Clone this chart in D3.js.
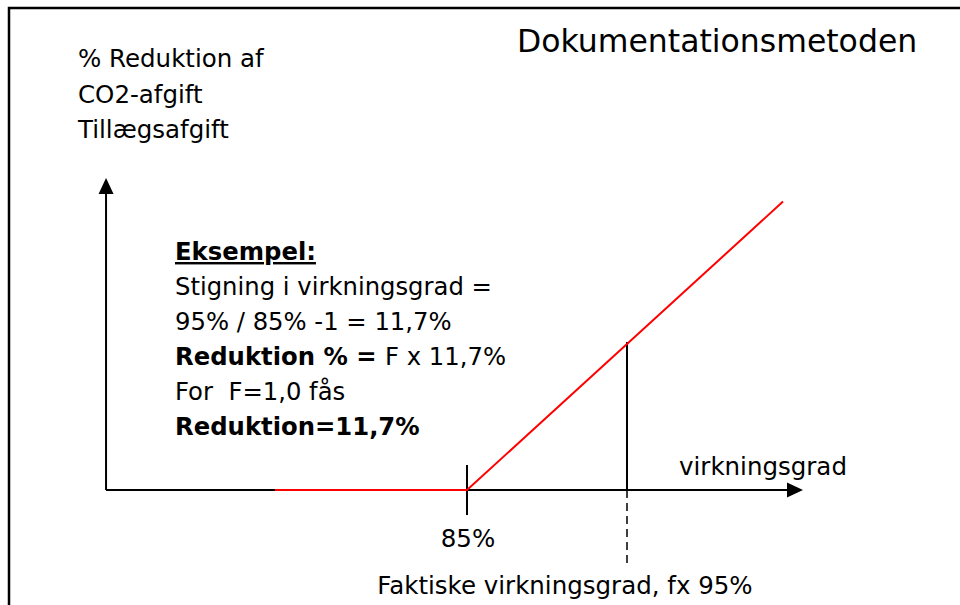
<!DOCTYPE html>
<html>
<head>
<meta charset="utf-8">
<script src="https://cdn.jsdelivr.net/npm/d3@7.8.5/dist/d3.min.js"></script>
<style>
  html, body { margin: 0; padding: 0; background: #fff; }
  svg { display: block; font-family: "DejaVu Sans", Verdana, sans-serif; }
</style>
</head>
<body>
<svg id="chart" width="960" height="605"></svg>
<script>
// Virkningsgrad (%) og reduktion (%) for den røde kurve
const efficiency = [73, 85, 104.75];
const reduction = [0, 0, 22.8];

// Markeringer på x-aksen
const baseEff = 85;       // tick med label
const actualEff = 95;     // faktisk virkningsgrad
const actualRed = 11.7;   // reduktion ved 95%

// Aksernes udstrækning i data-enheder
const xAxisRange = [62.44, 106];
const yAxisRange = [0, 24.66];

const titleText = 'Dokumentationsmetoden';
const yLabelLines = ['% Reduktion af', 'CO2-afgift', 'Tillægsafgift'];
const exampleLines = [
  [{t: 'Eksempel:', b: true, u: true}],
  [{t: 'Stigning i virkningsgrad ='}],
  [{t: '95% / 85% -1 = 11,7%'}],
  [{t: 'Reduktion % = ', b: true}, {t: 'F x 11,7%'}],
  [{t: 'For  F=1,0 fås'}],
  [{t: 'Reduktion=11,7%', b: true}]
];
const xLabel = 'virkningsgrad';
const tickLabel = '85%';
const actualLabel = 'Faktiske virkningsgrad, fx 95%';

const svg = d3.select('#chart');

// skalaer: 85% -> 467px, 95% -> 627px
const x = d3.scaleLinear().domain([85, 95]).range([467, 627]);
const y = d3.scaleLinear().domain([0, 11.7]).range([490, 342]);

// ramme (kun top og venstre ses)
svg.append('path')
  .attr('d', 'M9,605 L9,8 L960,8')
  .attr('fill', 'none')
  .attr('stroke', '#000')
  .attr('stroke-width', 2.5);

// titel
svg.append('text')
  .attr('x', 517).attr('y', 52)
  .attr('font-size', 31.5)
  .text(titleText);

// y-label
svg.append('g').selectAll('text')
  .data(yLabelLines)
  .join('text')
  .attr('x', 78)
  .attr('y', (d, i) => 67 + i * 35.5)
  .attr('font-size', 24.5)
  .text(d => d);

// akser
const x0 = x(xAxisRange[0]), x1 = x(xAxisRange[1]);
const y0 = y(yAxisRange[0]), y1 = y(yAxisRange[1]);

svg.append('line')
  .attr('x1', x0).attr('y1', y0).attr('x2', x0).attr('y2', y1 + 14)
  .attr('stroke', '#000').attr('stroke-width', 2);
svg.append('path')
  .attr('d', `M${x0},${y1} L${x0 - 7.5},${y1 + 16} L${x0 + 7.5},${y1 + 16} Z`)
  .attr('fill', '#000');

svg.append('line')
  .attr('x1', x0).attr('y1', y0).attr('x2', x1 - 14).attr('y2', y0)
  .attr('stroke', '#000').attr('stroke-width', 2);
svg.append('path')
  .attr('d', `M${x1},${y0} L${x1 - 16},${y0 - 7.5} L${x1 - 16},${y0 + 7.5} Z`)
  .attr('fill', '#000');

// tick ved 85%
svg.append('line')
  .attr('x1', x(baseEff)).attr('x2', x(baseEff))
  .attr('y1', y0 - 25).attr('y2', y0 + 25)
  .attr('stroke', '#000').attr('stroke-width', 2);

// lodret linje ved 95%
svg.append('line')
  .attr('x1', x(actualEff)).attr('x2', x(actualEff))
  .attr('y1', y(actualRed)).attr('y2', y0)
  .attr('stroke', '#000').attr('stroke-width', 2);
svg.append('line')
  .attr('x1', x(actualEff)).attr('x2', x(actualEff))
  .attr('y1', y0).attr('y2', y0 + 73)
  .attr('stroke', '#000').attr('stroke-width', 1.5)
  .attr('stroke-dasharray', '8,5');

// rød kurve
const pts = efficiency.map((e, i) => [e, reduction[i]]);
svg.append('path')
  .datum(pts)
  .attr('d', d3.line().x(d => x(d[0])).y(d => y(d[1])))
  .attr('fill', 'none')
  .attr('stroke', '#ff0000')
  .attr('stroke-width', 2);

// eksempel-tekst
const ex = svg.append('g');
exampleLines.forEach((parts, i) => {
  const t = ex.append('text')
    .attr('x', 175)
    .attr('y', 260 + i * 35)
    .attr('font-size', 24.3);
  parts.forEach(p => {
    t.append('tspan')
      .attr('font-weight', p.b ? 'bold' : 'normal')
      .attr('text-decoration', p.u ? 'underline' : null)
      .style('white-space', 'pre')
      .text(p.t);
  });
});

// labels på x-aksen
svg.append('text')
  .attr('x', 679).attr('y', 475)
  .attr('font-size', 24.5)
  .text(xLabel);

svg.append('text')
  .attr('x', x(baseEff) + 1).attr('y', 547)
  .attr('text-anchor', 'middle')
  .attr('font-size', 24.5)
  .text(tickLabel);

svg.append('text')
  .attr('x', 565).attr('y', 594)
  .attr('text-anchor', 'middle')
  .attr('font-size', 24.5)
  .text(actualLabel);
</script>
</body>
</html>
